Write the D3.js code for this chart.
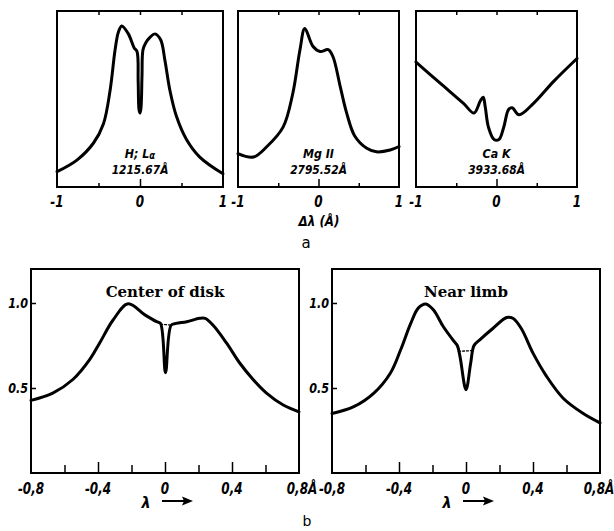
<!DOCTYPE html>
<html>
<head>
<meta charset="utf-8">
<script src="https://cdn.jsdelivr.net/npm/d3@7"></script>
<style>
  body { margin: 0; background: #fff; }
  .cond { font-family: 'DejaVu Sans', sans-serif; font-style: italic; font-weight: bold; }
  .serif { font-family: 'DejaVu Serif', 'Liberation Serif', serif; font-weight: bold; }
</style>
</head>
<body>
<svg width="614" height="531"></svg>
<script>
// (a) line profiles, x = offset from line centre (A), y = relative intensity
const hlaX = [-1.0, -0.76, -0.56, -0.44, -0.36, -0.3, -0.26, -0.22, -0.14, -0.07, -0.036, -0.022, -0.012, 0.0, 0.012, 0.024, 0.036, 0.07, 0.12, 0.18, 0.25, 0.3, 0.36, 0.44, 0.56, 0.72, 1.0]
const hlaY = [0.087, 0.153, 0.25, 0.36, 0.55, 0.78, 0.88, 0.915, 0.87, 0.79, 0.77, 0.6, 0.44, 0.42, 0.45, 0.63, 0.78, 0.82, 0.85, 0.87, 0.835, 0.72, 0.55, 0.4, 0.27, 0.17, 0.075]

const mgX = [-1.0, -0.81, -0.64, -0.44, -0.32, -0.23, -0.17, -0.07, 0.02, 0.12, 0.18, 0.27, 0.35, 0.45, 0.6, 0.72, 0.89, 1.0]
const mgY = [0.19, 0.17, 0.23, 0.34, 0.53, 0.78, 0.9, 0.8, 0.77, 0.78, 0.74, 0.57, 0.42, 0.29, 0.22, 0.2, 0.21, 0.23]

const caX = [-1.0, -0.7, -0.41, -0.28, -0.2, -0.165, -0.14, -0.1, -0.03, 0.03, 0.09, 0.15, 0.195, 0.28, 0.46, 0.71, 1.0]
const caY = [0.71, 0.59, 0.475, 0.42, 0.49, 0.51, 0.456, 0.34, 0.27, 0.27, 0.34, 0.44, 0.45, 0.41, 0.475, 0.6, 0.73]

const topLines = ['H; L', 'Mg II', 'Ca K']
const topWaves = ['1215.67Å', '2795.52Å', '3933.68Å']
const topTickLabels = ['-1', '0', '1']

// (b) Mg II k profile, centre of disk and near limb
const cdX = [-0.8, -0.67, -0.55, -0.45, -0.39, -0.31, -0.22, -0.12, -0.05, -0.027, 0.003, 0.037, 0.067, 0.13, 0.207, 0.24, 0.286, 0.367, 0.446, 0.526, 0.606, 0.706, 0.8]
const cdY = [0.427, 0.47, 0.55, 0.667, 0.765, 0.9, 0.995, 0.93, 0.89, 0.88, 0.59, 0.87, 0.88, 0.89, 0.91, 0.91, 0.87, 0.765, 0.647, 0.55, 0.47, 0.4, 0.36]
const cdGapX = [-0.027, 0.037]
const cdGapY = [0.875, 0.87]

const nlX = [-0.8, -0.67, -0.55, -0.45, -0.39, -0.33, -0.285, -0.24, -0.195, -0.135, -0.076, -0.052, -0.036, 0.0, 0.028, 0.048, 0.084, 0.16, 0.243, 0.28, 0.33, 0.4, 0.48, 0.58, 0.7, 0.8]
const nlY = [0.35, 0.39, 0.47, 0.59, 0.725, 0.88, 0.97, 0.994, 0.96, 0.86, 0.78, 0.75, 0.686, 0.49, 0.647, 0.75, 0.785, 0.85, 0.915, 0.91, 0.85, 0.705, 0.57, 0.44, 0.35, 0.295]
const nlGapX = [-0.045, 0.04]
const nlGapY = [0.716, 0.72]

const bottomTitles = ['Center of disk', 'Near limb']
const bottomTickLabels = ['-0,8', '-0,4', '0', '0,4', '0,8Å']
const bottomYLabels = ['0.5', '1.0']

const svg = d3.select('svg')

const zip = (xs, ys) => xs.map((v, i) => [v, ys[i]])

// narrow italic labels: squeeze DejaVu Sans horizontally
function ctext(g, x, y, s, size, anchor, sx) {
  return g.append('text')
    .attr('class', 'cond')
    .attr('transform', `translate(${x},${y}) scale(${sx || 0.8},1)`)
    .attr('text-anchor', anchor || 'middle')
    .attr('font-size', size)
    .text(s)
}

function drawCurve(g, x, y, pts, width, dash) {
  g.append('path')
    .datum(pts)
    .attr('fill', 'none')
    .attr('stroke', '#000')
    .attr('stroke-width', width)
    .attr('stroke-linejoin', 'round')
    .attr('stroke-linecap', 'round')
    .attr('stroke-dasharray', dash || null)
    .attr('d', d3.line().x(d => x(d[0])).y(d => y(d[1])).curve(d3.curveCatmullRom.alpha(0.5)))
}

function frame(g, x0, x1, y0, y1) {
  g.append('rect')
    .attr('x', x0).attr('y', y0)
    .attr('width', x1 - x0).attr('height', y1 - y0)
    .attr('fill', 'none').attr('stroke', '#000').attr('stroke-width', 2)
}

// ---- top row ----
const topBox = [[57, 223], [238, 399], [416, 577]]
const topData = [[hlaX, hlaY], [mgX, mgY], [caX, caY]]
const topY = d3.scaleLinear().domain([0, 1]).range([187, 11])

topBox.forEach((b, i) => {
  const g = svg.append('g')
  const x = d3.scaleLinear().domain([-1, 1]).range(b)

  // inward tick marks, bottom and top
  g.append('g').attr('transform', 'translate(0,187)')
    .call(d3.axisBottom(x).tickValues([-0.5, 0.5]).tickSize(-4).tickFormat(''))
  g.append('g').attr('transform', 'translate(0,187)')
    .call(d3.axisBottom(x).tickValues([0]).tickSize(-8).tickFormat(''))
  g.append('g').attr('transform', 'translate(0,11)')
    .call(d3.axisTop(x).tickValues([-0.5, 0, 0.5]).tickSize(-4).tickFormat(''))
  g.selectAll('.domain').remove()
  g.selectAll('.tick line').attr('stroke-width', 1.5)

  frame(g, b[0], b[1], 11, 187)
  drawCurve(g, x, topY, zip(topData[i][0], topData[i][1]), 3)

  ;[-1, 0, 1].forEach((v, j) => ctext(g, x(v), 207, topTickLabels[j], 15))

  const name = ctext(g, x(0), 158, topLines[i], 13, 'middle', 0.85)
  if (i === 0) name.append('tspan').attr('dy', 1).attr('font-size', 10).text('α')
  ctext(g, x(0), 174, topWaves[i], 13, 'middle', 0.82)
})

ctext(svg, 319, 226, 'Δλ (Å)', 14, 'middle', 0.85)
svg.append('text')
  .attr('x', 306).attr('y', 248).attr('text-anchor', 'middle')
  .attr('font-family', 'DejaVu Sans, sans-serif').attr('font-size', 15)
  .text('a')

// ---- bottom row ----
const botBox = [[31, 299], [332, 600]]
const botData = [[cdX, cdY, cdGapX, cdGapY], [nlX, nlY, nlGapX, nlGapY]]
const botY = d3.scaleLinear().domain([0, 1.2]).range([473, 269])

botBox.forEach((b, i) => {
  const g = svg.append('g')
  const x = d3.scaleLinear().domain([-0.8, 0.8]).range(b)

  g.append('g').attr('transform', 'translate(0,473)')
    .call(d3.axisBottom(x).tickValues([-0.4, 0, 0.4]).tickSize(-11).tickFormat(''))
  g.append('g').attr('transform', 'translate(0,473)')
    .call(d3.axisBottom(x).tickValues([-0.6, -0.2, 0.2, 0.6]).tickSize(-8).tickFormat(''))
  g.append('g').attr('transform', `translate(${b[0]},0)`)
    .call(d3.axisLeft(botY).tickValues([0.5, 1.0]).tickSize(-5).tickFormat(''))
  g.selectAll('.domain').remove()
  g.selectAll('.tick line').attr('stroke-width', 1.5)

  frame(g, b[0], b[1], 269, 473)
  const d = botData[i]
  drawCurve(g, x, botY, zip(d[0], d[1]), 3)
  drawCurve(g, x, botY, zip(d[2], d[3]), 1.3, '2,2')

  ;[-0.8, -0.4, 0, 0.4, 0.8].forEach((v, j) =>
    ctext(g, x(v) + (v === 0.8 ? 3 - 4 * i : 0), 494, bottomTickLabels[j], 15))

  ;[0.5, 1.0].forEach((v, j) =>
    ctext(g, b[0] - 3, botY(v) + 5, bottomYLabels[j], 14, 'end'))

  g.append('text').attr('class', 'serif')
    .attr('x', x(0)).attr('y', 297).attr('text-anchor', 'middle').attr('font-size', 15)
    .text(bottomTitles[i])

  const cx = x(0)
  ctext(g, cx - 19, 508, 'λ', 16, 'middle', 0.9)
  g.append('line')
    .attr('x1', cx - 3).attr('x2', cx + 20).attr('y1', 501).attr('y2', 501)
    .attr('stroke', '#000').attr('stroke-width', 2)
  g.append('path')
    .attr('d', `M${cx + 28},501 L${cx + 17},496.5 L${cx + 19},501 L${cx + 17},505.5 Z`)
    .attr('fill', '#000')
})

svg.append('text')
  .attr('x', 307).attr('y', 526).attr('text-anchor', 'middle')
  .attr('font-family', 'DejaVu Sans, sans-serif').attr('font-size', 14)
  .text('b')
</script>
</body>
</html>
